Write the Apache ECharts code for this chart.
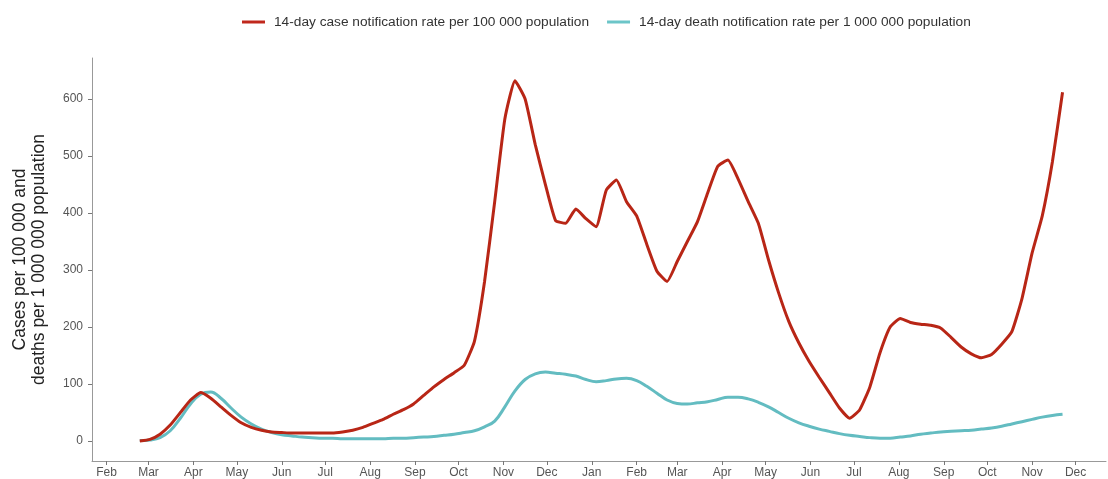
<!DOCTYPE html>
<html>
<head>
<meta charset="utf-8">
<script src="https://cdn.jsdelivr.net/npm/echarts@6/dist/echarts.min.js"></script>
<style>
html,body{margin:0;padding:0;background:#fff;}
#chart{width:1108px;height:479px;}
</style>
</head>
<body>
<div id="chart"></div>
<script>
// Weekly reporting weeks starting 2020-02-24
const firstWeek = [2020, 1, 24]; // year, monthIndex, day
const weekCount = 92;

const caseRate = [
  0, 3, 12, 28, 50, 72, 85, 75, 60, 45,
  32, 24, 19, 16, 15, 14, 14, 14, 14, 14,
  16, 19, 24, 31, 38, 47, 55, 65, 80, 95,
  108, 120, 133, 175, 280, 420, 565, 632, 600, 520,
  450, 387, 382, 407, 390, 376, 440, 458, 420, 395,
  345, 298, 280, 315, 350, 385, 435, 482, 493, 460,
  420, 382, 318, 260, 210, 172, 140, 112, 85, 58,
  40, 55, 95, 155, 200, 215, 208, 205, 203, 198,
  182, 165, 153, 146, 152, 170, 192, 250, 330, 395,
  490, 612
];

const deathRate = [
  1, 2, 6, 18, 40, 65, 82, 86, 75, 58,
  42, 30, 21, 15, 11, 9, 7, 6, 5, 5,
  4, 4, 4, 4, 4, 5, 5, 6, 7, 8,
  10, 12, 15, 18, 25, 35, 60, 88, 108, 118,
  121, 119, 117, 114, 108, 104, 106, 109, 110, 106,
  96, 84, 72, 66, 65, 67, 69, 73, 77, 77,
  74, 68, 60, 50, 40, 32, 26, 21, 17, 13,
  10, 8, 6, 5, 5, 7, 9, 12, 14, 16,
  17, 18, 19, 21, 23, 26, 30, 34, 38, 42,
  45, 47
];

const monthNames = ['Jan','Feb','Mar','Apr','May','Jun','Jul','Aug','Sep','Oct','Nov','Dec'];
// month ticks: Feb 2020 .. Dec 2021
const tickMonths = [];
for (let y = 2020; y <= 2021; y++) {
  for (let m = 0; m < 12; m++) {
    if (y === 2020 && m < 1) continue;
    tickMonths.push(Date.UTC(y, m, 1));
  }
}
const yTicks = [0, 100, 200, 300, 400, 500, 600];

const DAY = 864e5;
const t0 = Date.UTC(firstWeek[0], firstWeek[1], firstWeek[2]);
const weeks = [];
for (let i = 0; i < weekCount; i++) weeks.push(t0 + i * 7 * DAY);

const caseData = weeks.map((t, i) => [t, caseRate[i]]);
const deathData = weeks.map((t, i) => [t, deathRate[i]]);

const chart = echarts.init(document.getElementById('chart'), null, {renderer: 'canvas'});
const font = 'Liberation Sans, Arial, sans-serif';
chart.setOption({
  animation: false,
  backgroundColor: '#fff',
  textStyle: {fontFamily: font},
  legend: {
    top: 10,
    left: 237,
    itemWidth: 23,
    itemHeight: 3,
    itemGap: 18,
    textStyle: {fontSize: 13.7, color: '#333', fontFamily: font, padding: [0, 0, 0, 4]},
    data: [
      {name: '14-day case notification rate per 100 000 population', icon: 'rect'},
      {name: '14-day death notification rate per 1 000 000 population', icon: 'rect'}
    ]
  },
  grid: {left: 92, right: 2, top: 58, bottom: 18},
  xAxis: {
    type: 'value',
    min: Date.UTC(2020, 0, 22),
    max: Date.UTC(2021, 11, 22),
    axisLine: {show: true, onZero: false, lineStyle: {color: '#999', width: 1}},
    axisTick: {show: true, length: 4, lineStyle: {color: '#777'}, customValues: tickMonths},
    axisLabel: {
      customValues: tickMonths,
      color: '#555',
      fontSize: 12,
      margin: 6,
      fontFamily: font,
      formatter: function (v) { return monthNames[new Date(v).getUTCMonth()]; }
    },
    splitLine: {show: false}
  },
  yAxis: {
    type: 'value',
    min: -35,
    max: 672,
    name: 'Cases per 100 000 and\ndeaths per 1 000 000 population',
    nameLocation: 'middle',
    nameGap: 43,
    nameTextStyle: {fontSize: 17.5, color: '#222', lineHeight: 19, fontFamily: font},
    axisLine: {show: true, onZero: false, lineStyle: {color: '#999', width: 1}},
    axisTick: {show: true, length: 4, lineStyle: {color: '#777'}, customValues: yTicks},
    axisLabel: {customValues: yTicks, color: '#555', fontSize: 12, margin: 9, fontFamily: font},
    splitLine: {show: false}
  },
  series: [
    {
      name: '14-day case notification rate per 100 000 population',
      type: 'line',
      data: caseData,
      showSymbol: false,
      symbol: 'none',
      smooth: 0.15,
      lineStyle: {color: '#b82616', width: 3},
      itemStyle: {color: '#c0281c'},
      z: 3
    },
    {
      name: '14-day death notification rate per 1 000 000 population',
      type: 'line',
      data: deathData,
      showSymbol: false,
      symbol: 'none',
      smooth: 0.4,
      lineStyle: {color: '#63bcc1', width: 3},
      itemStyle: {color: '#6cc5c8'},
      z: 2
    }
  ]
});
</script>
</body>
</html>
